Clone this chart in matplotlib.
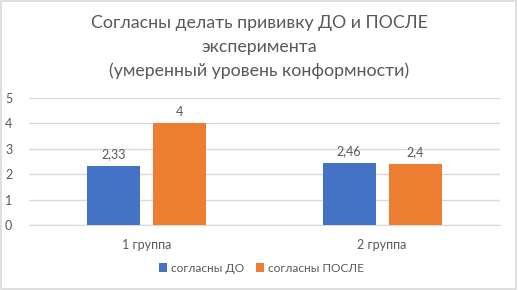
import matplotlib
matplotlib.use("Agg")
import matplotlib.pyplot as plt
import numpy as np
from matplotlib.patches import Rectangle

categories = ["1 группа", "2 группа"]
series_names = ["согласны ДО", "согласны ПОСЛЕ"]
before = [2.33, 2.46]
after = [4, 2.4]
before_labels = ["2,33", "2,46"]
after_labels = ["4", "2,4"]
title = "Согласны делать прививку ДО и ПОСЛЕ\nэксперимента\n(умеренный уровень конформности)"

plt.rcParams['font.family'] = ['Lato', 'DejaVu Sans']
gray = "#595959"

fig = plt.figure(figsize=(5.18, 2.9), dpi=100)
fig.patches.append(Rectangle((0.002, 0.004), 0.994, 0.992, transform=fig.transFigure,
                             fill=False, edgecolor="#D9D9D9", linewidth=1.2))
ax = fig.add_axes([0.056, 0.224, 0.909, 0.438])

x = np.arange(len(categories))
w = 0.225
off = 0.14
b1 = ax.bar(x - off, before, w, color="#4472C4", label=series_names[0], zorder=3)
b2 = ax.bar(x + off, after, w, color="#ED7D31", label=series_names[1], zorder=3)
ax.bar_label(b1, labels=before_labels, padding=4, fontsize=9, color=gray)
ax.bar_label(b2, labels=after_labels, padding=4, fontsize=9, color=gray)

ax.set_xlim(-0.5, 1.5)
ax.set_ylim(0, 5)
ax.set_yticks(range(0, 6))
ax.set_xticks(x)
ax.set_xticklabels(categories)
ax.grid(axis='y', color="#D9D9D9", linewidth=1, zorder=0)
for s in ax.spines.values():
    s.set_visible(False)
ax.spines['bottom'].set_visible(True)
ax.spines['bottom'].set_color("#D9D9D9")
ax.tick_params(axis='both', length=0, labelsize=9, colors=gray)
ax.tick_params(axis='x', pad=10)
ax.tick_params(axis='y', pad=12)

fig.text(0.5, 0.838, title, ha='center', va='center', fontsize=12.8, color=gray, linespacing=1.55)
fig.legend(loc='center', bbox_to_anchor=(0.505, 0.075), ncol=2, frameon=False, fontsize=8.6,
           handlelength=0.7, handleheight=0.7, handletextpad=0.3, columnspacing=1.0,
           labelcolor=gray)

fig.savefig("out.png", dpi=100)
